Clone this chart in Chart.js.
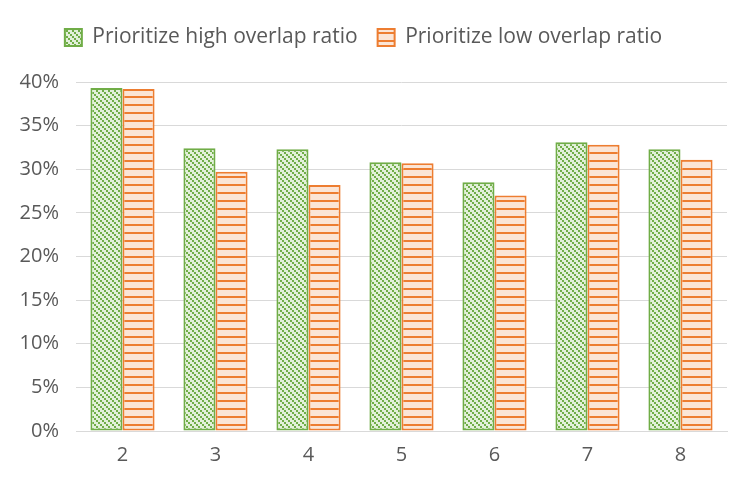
<!DOCTYPE html>
<html>
<head>
<meta charset="utf-8">
<script src="https://cdn.jsdelivr.net/npm/chart.js@4"></script>
<style>
  html, body { margin: 0; padding: 0; background: #fff; }
  #wrap { width: 747px; height: 486px; }
</style>
</head>
<body>
<div id="wrap"><canvas id="overlap-chart"></canvas></div>
<script>
const categories = ['2', '3', '4', '5', '6', '7', '8'];
const highOverlap = [39.3, 32.4, 32.3, 30.8, 28.5, 33.1, 32.3];
const lowOverlap = [39.2, 29.7, 28.2, 30.7, 27.0, 32.8, 31.1];
const yTicks = [0, 5, 10, 15, 20, 25, 30, 35, 40];

// small pixel patterns like the excel fills
function diagPattern() {
  const c = document.createElement('canvas');
  c.width = 6; c.height = 6;
  const ctx = c.getContext('2d');
  ctx.fillStyle = '#e2f0d9';
  ctx.fillRect(0, 0, 6, 6);
  ctx.fillStyle = '#70ad47';
  ctx.fillRect(0, 0, 2, 2);
  ctx.fillRect(2, 2, 2, 2);
  ctx.fillRect(4, 4, 2, 2);
  return ctx.createPattern(c, 'repeat');
}

function stripePattern() {
  const c = document.createElement('canvas');
  c.width = 8; c.height = 8;
  const ctx = c.getContext('2d');
  ctx.fillStyle = '#fbe5d6';
  ctx.fillRect(0, 0, 8, 8);
  ctx.fillStyle = '#ed7d31';
  ctx.fillRect(0, 0, 8, 2);
  return ctx.createPattern(c, 'repeat');
}

const font = "'Open Sans', sans-serif";

// extra room under the legend
const legendGap = {
  id: 'legendGap',
  beforeInit(chart) {
    const fit = chart.legend.fit;
    chart.legend.fit = function () {
      fit.bind(chart.legend)();
      this.height += 24;
    };
  }
};

new Chart(document.getElementById('overlap-chart'), {
  type: 'bar',
  data: {
    labels: categories,
    datasets: [
      {
        label: 'Prioritize high overlap ratio',
        data: highOverlap,
        backgroundColor: diagPattern(),
        borderColor: '#70ad47',
        borderWidth: 2,
        borderSkipped: false
      },
      {
        label: 'Prioritize low overlap ratio',
        data: lowOverlap,
        backgroundColor: stripePattern(),
        borderColor: '#ed7d31',
        borderWidth: 2,
        borderSkipped: false
      }
    ]
  },
  options: {
    responsive: true,
    maintainAspectRatio: false,
    animation: false,
    layout: { padding: { top: 7, right: 20, left: 0, bottom: 0 } },
    datasets: { bar: { categoryPercentage: 0.69, barPercentage: 1 } },
    plugins: {
      legend: {
        position: 'top',
        labels: {
          boxWidth: 17,
          boxHeight: 17,
          padding: 20,
          color: '#595959',
          font: { family: font, size: 21 }
        }
      },
      tooltip: { enabled: false }
    },
    scales: {
      x: {
        grid: { display: false },
        border: { color: '#d9d9d9', width: 1 },
        ticks: { color: '#595959', padding: 4, font: { family: font, size: 20 } },
        afterFit: s => { s.height = 55; }
      },
      y: {
        min: 0,
        max: 40,
        afterBuildTicks: s => { s.ticks = yTicks.map(v => ({ value: v })); },
        grid: { color: '#d9d9d9', drawTicks: false },
        border: { display: false },
        ticks: {
          color: '#595959',
          padding: 17,
          font: { family: font, size: 20 },
          callback: v => v + '%'
        },
        afterFit: s => { s.width = 76; }
      }
    }
  },
  plugins: [legendGap]
});
</script>
</body>
</html>
